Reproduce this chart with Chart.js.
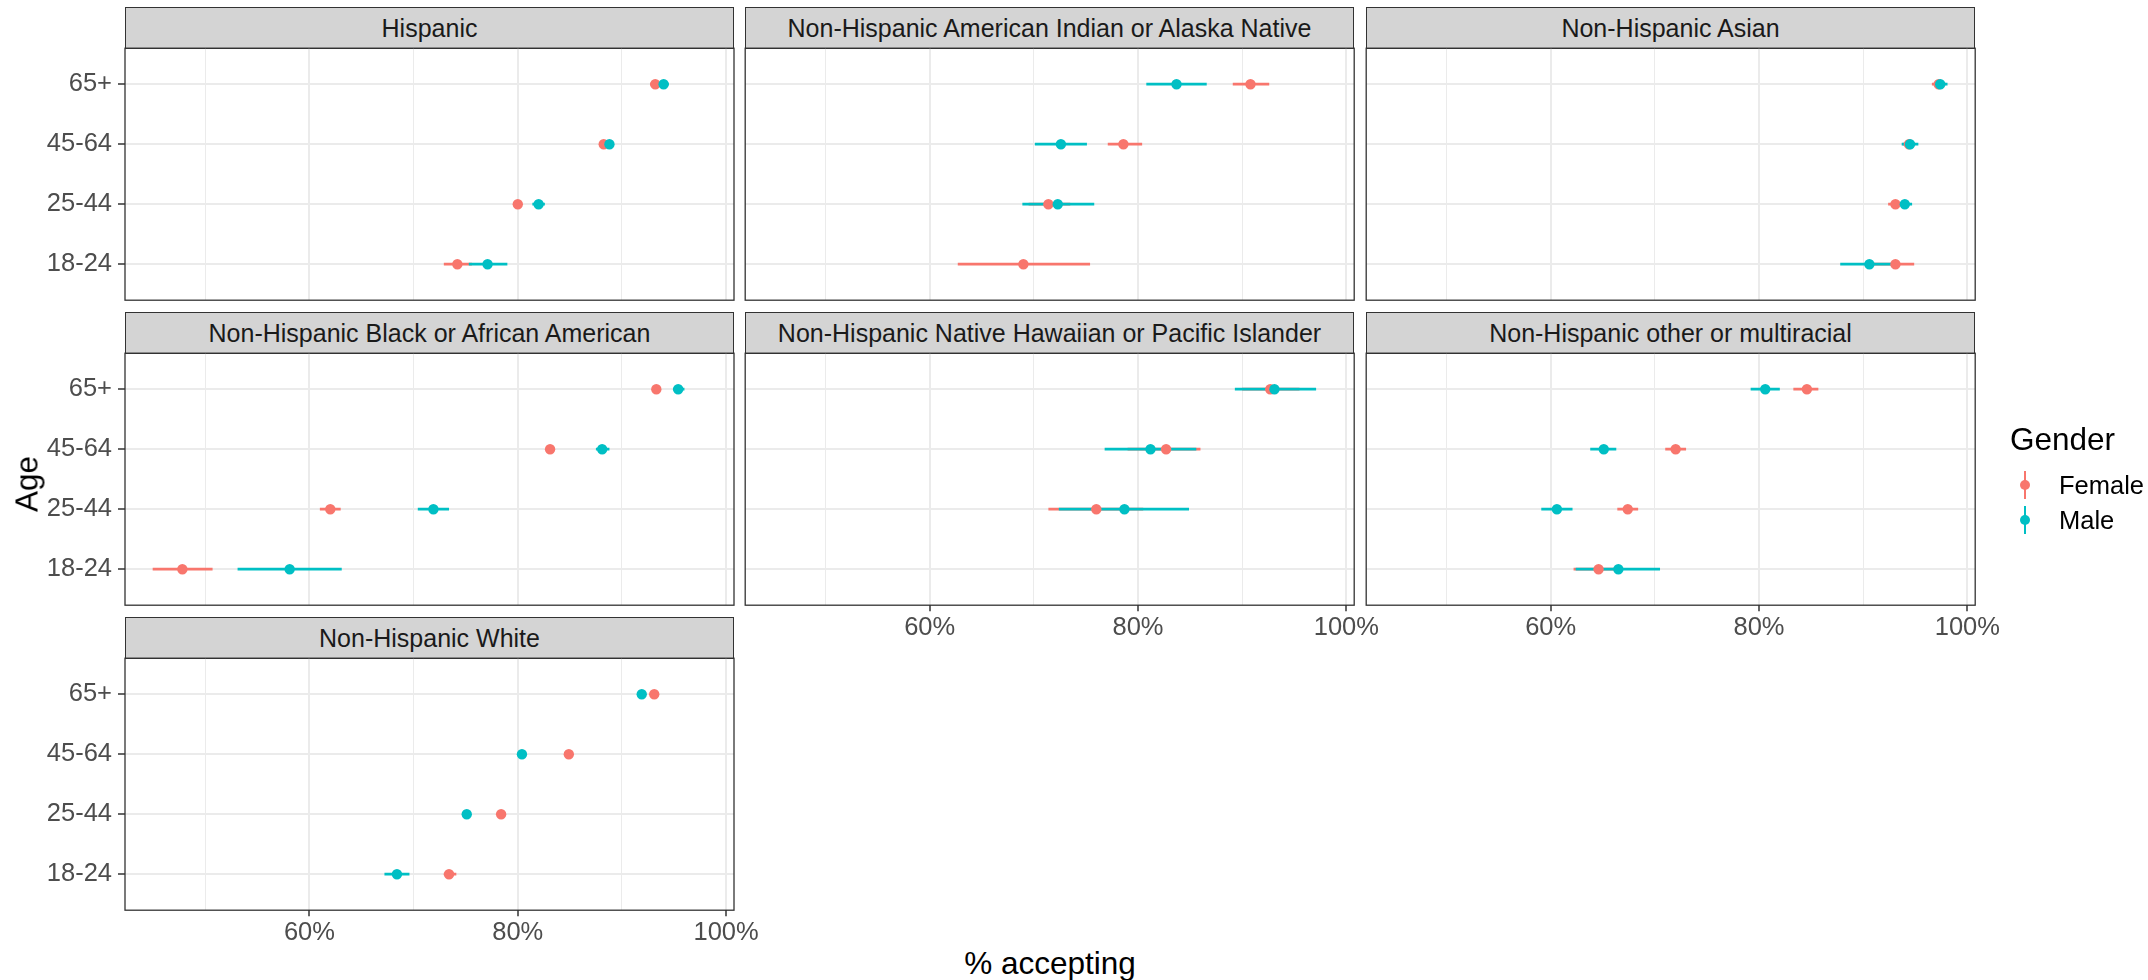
<!DOCTYPE html>
<html lang="en">

<head>
    <meta charset="UTF-8">
    <title>% accepting by age, gender and race/ethnicity</title>
    <script src="https://cdn.jsdelivr.net/npm/chart.js"></script>
    <style>
        body { margin: 0; background: #fff; font-family: "Liberation Sans", Arial, sans-serif; }
        #page { position: relative; width: 2148px; height: 980px; overflow: hidden; background: #fff; }
        #page canvas { position: absolute; }
        .strip {
            position: absolute; box-sizing: border-box; background: #D4D4D4; border: 1.3px solid #333;
            color: #1A1A1A; font-size: 25px; display: flex; align-items: center; justify-content: center;
            white-space: nowrap;
        }
        .title { position: absolute; font-size: 31.5px; color: #000; white-space: nowrap; }
        .legend-key { position: absolute; width: 12px; height: 28px; }
        .legend-key .bar { position: absolute; left: 4.6px; top: 0; width: 2.8px; height: 28px; }
        .legend-key .dot { position: absolute; left: 0.8px; top: 8.8px; width: 10.4px; height: 10.4px; border-radius: 50%; }
        .legend-label { position: absolute; font-size: 25.5px; color: #000; white-space: nowrap; }
    </style>
</head>

<body>
    <div id="page"></div>

    <script>
        // facet panels, one per race/ethnicity group
        const groups = [
            'Hispanic',
            'Non-Hispanic American Indian or Alaska Native',
            'Non-Hispanic Asian',
            'Non-Hispanic Black or African American',
            'Non-Hispanic Native Hawaiian or Pacific Islander',
            'Non-Hispanic other or multiracial',
            'Non-Hispanic White'
        ];
        const ageGroups = ['18-24', '25-44', '45-64', '65+'];
        const genders = ['Female', 'Male'];
        const genderColors = ['#F8766D', '#00BFC4'];
        const xTicks = [50, 60, 70, 80, 90, 100];
        const xTickLabels = ['', '60%', '', '80%', '', '100%'];

        // % accepting, one row per group, columns follow ageGroups (null = no estimate)
        const femaleEst = [
            [74.2, 80.0, 88.25, 93.2],
            [69.0, 71.4, 78.6, 90.8],
            [93.1, 93.1, 94.4, 97.25],
            [47.8, 62.0, 83.1, 93.3],
            [null, 76.0, 82.7, 92.7],
            [64.6, 67.4, 72.0, 84.6],
            [73.4, 78.4, 84.9, 93.1]
        ];
        const femaleLo = [
            [72.9, 79.7, 87.9, 92.7],
            [62.7, 69.5, 77.1, 89.1],
            [91.0, 92.4, 93.8, 96.6],
            [44.95, 61.0, 82.7, 92.9],
            [null, 71.4, 79.0, 90.0],
            [62.2, 66.4, 71.0, 83.3],
            [72.9, 78.0, 84.5, 92.7]
        ];
        const femaleHi = [
            [75.6, 80.3, 88.6, 93.7],
            [75.4, 73.5, 80.4, 92.6],
            [94.9, 93.8, 95.0, 97.9],
            [50.7, 63.0, 83.5, 93.7],
            [null, 80.5, 86.0, 95.5],
            [66.9, 68.4, 73.0, 85.7],
            [74.1, 78.8, 85.3, 93.5]
        ];
        const maleEst = [
            [77.1, 82.0, 88.8, 94.0],
            [null, 72.3, 72.6, 83.7],
            [90.6, 94.0, 94.5, 97.4],
            [58.1, 71.9, 88.1, 95.4],
            [null, 78.7, 81.2, 93.1],
            [66.5, 60.6, 65.1, 80.6],
            [68.4, 75.1, 80.4, 91.9]
        ];
        const maleLo = [
            [75.3, 81.4, 88.4, 93.5],
            [null, 68.9, 70.1, 80.8],
            [87.8, 93.4, 93.7, 96.9],
            [53.1, 70.4, 87.5, 94.9],
            [null, 72.4, 76.8, 89.3],
            [62.4, 59.1, 63.8, 79.2],
            [67.2, 74.7, 80.0, 91.5]
        ];
        const maleHi = [
            [79.0, 82.6, 89.2, 94.5],
            [null, 75.8, 75.1, 86.6],
            [92.8, 94.7, 95.3, 98.1],
            [63.1, 73.4, 88.8, 96.0],
            [null, 84.9, 85.6, 97.1],
            [70.5, 62.1, 66.3, 82.0],
            [69.6, 75.5, 80.8, 92.3]
        ];

        // layout of the facet grid (page pixels)
        const colLeft = [125, 745, 1366];
        const stripTop = [7, 312, 617];
        const panelW = 609, stripH = 41, panelH = 252;
        const yAxisW = 125, xAxisH = 45, padRight = 40;
        const fontFamily = '"Liberation Sans", Arial, sans-serif';

        // shared x range, same 5% expansion as ggplot
        const allLo = [...femaleLo.flat(), ...maleLo.flat()].filter(v => v !== null);
        const allHi = [...femaleHi.flat(), ...maleHi.flat()].filter(v => v !== null);
        const dataMin = Math.min(...allLo), dataMax = Math.max(...allHi);
        const xMin = dataMin - 0.05 * (dataMax - dataMin);
        const xMax = dataMax + 0.05 * (dataMax - dataMin);

        const page = document.getElementById('page');

        const panelBorder = {
            id: 'panelBorder',
            afterDatasetsDraw(chart) {
                const { ctx, chartArea: a } = chart;
                ctx.save();
                ctx.strokeStyle = '#333';
                ctx.lineWidth = 1.3;
                ctx.strokeRect(a.left, a.top, a.right - a.left, a.bottom - a.top);
                ctx.restore();
            }
        };

        function isMajor(c) {
            return c.tick && xTickLabels[xTicks.indexOf(c.tick.value)] !== '';
        }

        function buildDatasets(g) {
            const series = [
                { est: femaleEst[g], lo: femaleLo[g], hi: femaleHi[g] },
                { est: maleEst[g], lo: maleLo[g], hi: maleHi[g] }
            ];
            const sets = [];
            // ranges first (female under male), then points on top
            series.forEach((s, k) => {
                ageGroups.forEach((age, a) => {
                    if (s.est[a] === null) return;
                    sets.push({
                        type: 'line',
                        label: genders[k] + ' ' + age,
                        data: [{ x: s.lo[a], y: a + 1 }, { x: s.hi[a], y: a + 1 }],
                        borderColor: genderColors[k],
                        borderWidth: 2.8,
                        pointRadius: 0,
                        order: 3 - k
                    });
                });
            });
            series.forEach((s, k) => {
                sets.push({
                    type: 'scatter',
                    label: genders[k],
                    data: ageGroups.map((age, a) => s.est[a] === null ? null : { x: s.est[a], y: a + 1 }).filter(p => p),
                    backgroundColor: genderColors[k],
                    borderWidth: 0,
                    pointRadius: 5.2,
                    order: 1 - k
                });
            });
            return sets;
        }

        groups.forEach((name, g) => {
            const row = Math.floor(g / 3), col = g % 3;
            const showY = col === 0;
            const showX = row === 2 || (row === 1 && col > 0);
            const panelTop = stripTop[row] + stripH;

            const strip = document.createElement('div');
            strip.className = 'strip';
            strip.textContent = name;
            strip.style.left = colLeft[col] + 'px';
            strip.style.top = stripTop[row] + 'px';
            strip.style.width = panelW + 'px';
            strip.style.height = (stripH + 1) + 'px';
            page.appendChild(strip);

            const canvas = document.createElement('canvas');
            const w = (showY ? yAxisW : 0) + panelW + padRight;
            const h = panelH + (showX ? xAxisH : 0);
            canvas.width = w;
            canvas.height = h;
            canvas.style.width = w + 'px';
            canvas.style.height = h + 'px';
            page.appendChild(canvas);

            const chart = new Chart(canvas, {
                type: 'scatter',
                data: { datasets: buildDatasets(g) },
                options: {
                    responsive: false,
                    maintainAspectRatio: false,
                    animation: false,
                    devicePixelRatio: 1,
                    layout: { padding: { left: 0, right: padRight, top: 0, bottom: 0 } },
                    plugins: { legend: { display: false }, tooltip: { enabled: false } },
                    scales: {
                        x: {
                            type: 'linear',
                            min: xMin,
                            max: xMax,
                            afterBuildTicks: s => { s.ticks = xTicks.map(v => ({ value: v })); },
                            afterFit: s => { s.height = showX ? xAxisH : 0; s.paddingLeft = 0; s.paddingRight = 0; },
                            border: { display: false },
                            grid: {
                                color: '#EBEBEB',
                                lineWidth: c => isMajor(c) ? 2 : 1,
                                drawTicks: showX,
                                tickLength: 6,
                                tickWidth: 1.5,
                                tickColor: c => isMajor(c) ? '#333' : 'rgba(0,0,0,0)'
                            },
                            ticks: {
                                display: showX,
                                autoSkip: false,
                                maxRotation: 0,
                                padding: 1,
                                color: '#4D4D4D',
                                font: { family: fontFamily, size: 25.5 },
                                callback: v => xTickLabels[xTicks.indexOf(v)]
                            }
                        },
                        y: {
                            type: 'linear',
                            min: 0.4,
                            max: 4.6,
                            afterBuildTicks: s => { s.ticks = ageGroups.map((a, i) => ({ value: i + 1 })); },
                            afterFit: s => { s.width = showY ? yAxisW : 0; s.paddingTop = 0; s.paddingBottom = 0; },
                            border: { display: false },
                            grid: {
                                color: '#EBEBEB',
                                lineWidth: 2,
                                drawTicks: showY,
                                tickLength: 7,
                                tickWidth: 1.5,
                                tickColor: '#333'
                            },
                            ticks: {
                                display: showY,
                                padding: 6,
                                color: '#4D4D4D',
                                font: { family: fontFamily, size: 25.5 },
                                callback: v => ageGroups[v - 1]
                            }
                        }
                    }
                },
                plugins: [panelBorder]
            });

            // make the plot area exactly panelW x panelH, then pin it to the panel slot
            let a = chart.chartArea;
            const dw = panelW - (a.right - a.left), dh = panelH - (a.bottom - a.top);
            if (Math.abs(dw) > 0.01 || Math.abs(dh) > 0.01) {
                chart.resize(w + dw, h + dh);
                a = chart.chartArea;
            }
            canvas.style.left = (colLeft[col] - a.left) + 'px';
            canvas.style.top = (panelTop - a.top) + 'px';
        });

        // axis titles
        const xTitle = document.createElement('div');
        xTitle.className = 'title';
        xTitle.textContent = '% accepting';
        xTitle.style.left = '1050px';
        xTitle.style.top = '963px';
        xTitle.style.transform = 'translate(-50%, -50%)';
        page.appendChild(xTitle);

        const yTitle = document.createElement('div');
        yTitle.className = 'title';
        yTitle.textContent = 'Age';
        yTitle.style.left = '27px';
        yTitle.style.top = '484px';
        yTitle.style.transform = 'translate(-50%, -50%) rotate(-90deg)';
        page.appendChild(yTitle);

        // legend
        const legTitle = document.createElement('div');
        legTitle.className = 'title';
        legTitle.textContent = 'Gender';
        legTitle.style.left = '2010px';
        legTitle.style.top = '439px';
        legTitle.style.transform = 'translateY(-50%)';
        page.appendChild(legTitle);

        const legendY = [485, 520];
        genders.forEach((gender, k) => {
            const key = document.createElement('div');
            key.className = 'legend-key';
            key.style.left = '2019px';
            key.style.top = (legendY[k] - 14) + 'px';
            key.innerHTML = '<div class="bar"></div><div class="dot"></div>';
            key.querySelector('.bar').style.background = genderColors[k];
            key.querySelector('.dot').style.background = genderColors[k];
            page.appendChild(key);

            const label = document.createElement('div');
            label.className = 'legend-label';
            label.textContent = gender;
            label.style.left = '2059px';
            label.style.top = legendY[k] + 'px';
            label.style.transform = 'translateY(-50%)';
            page.appendChild(label);
        });
    </script>
</body>

</html>
